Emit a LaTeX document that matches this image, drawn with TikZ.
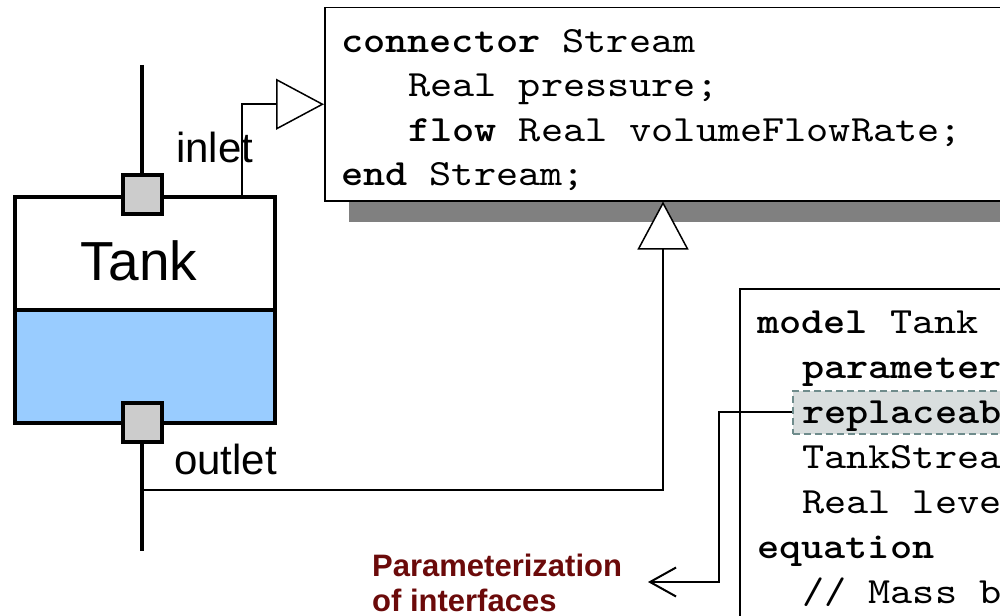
\documentclass[tikz,border=0pt]{standalone}
\usepackage{fontspec}
\setmainfont{Liberation Sans}
\setmonofont{lmmono10-regular.otf}[FakeStretch=1.14,BoldFont=lmmonolt10-bold.otf]
\usetikzlibrary{arrows.meta,calc}
\definecolor{water}{HTML}{99CCFF}
\definecolor{portgray}{HTML}{CCCCCC}
\definecolor{shadowgray}{HTML}{808080}
\definecolor{notered}{HTML}{6B0A0A}
\definecolor{hlfill}{HTML}{D9DEDE}
\definecolor{hldash}{HTML}{6F8C8C}
\begin{document}
\begin{tikzpicture}[x=1pt,y=-1pt,
  heavy/.style={line width=4pt},
  lean/.style={line width=1.5pt},
  vessel/.style={draw,heavy,minimum width=260pt,minimum height=113pt,inner sep=0pt,anchor=north west},
  portbox/.style={draw,heavy,fill=portgray,minimum size=39pt,inner sep=0pt},
  tag/.style={font=\fontsize{42}{48}\selectfont,inner sep=0pt,anchor=base west},
  codebox/.style={draw,lean,fill=white,inner sep=0pt,anchor=north west},
  codeline/.style={font=\fontsize{37}{44}\ttfamily,inner sep=0pt,anchor=base west},
  notetext/.style={font=\fontsize{31}{35}\selectfont\bfseries,text=notered,inner sep=0pt,anchor=base west},
  inherit/.style={lean,-{Triangle[open,length=48pt,width=51pt,fill=white]}},
]
\clip (0,0) rectangle (1000,615);

% the tank: empty upper part and liquid below
\node[vessel,fill=water] (liquid) at (13,308) {};
\node[vessel,fill=white] (vessel) at (13,195) {};
\node[font=\fontsize{55}{60}\selectfont,inner sep=0pt,anchor=base] (tanklabel) at (139,280) {Tank};

% ports and their wires
\node[portbox] (inport) at (142,194) {};
\node[portbox] (outport) at (142,422) {};
\coordinate (intop) at (142,65);
\coordinate (outbot) at (142,551);
\draw[heavy] (intop) -- (inport.north);
\draw[heavy] (outport.south) -- (outbot);
\node[tag] (inlabel) at (176,162) {inlet};
\node[tag] (outlabel) at (174,474) {outlet};

% connector class with drop shadow
\fill[shadowgray] (349,29) rectangle (1040,222);
\node[codebox,minimum width=690pt,minimum height=193pt] (connbox) at (324,7) {};
\node[codeline] (c1) at (341,53) {\textbf{connector} Stream};
\node[codeline] (c2) at (408,97) {Real pressure;};
\node[codeline] (c3) at (408,141) {\textbf{flow} Real volumeFlowRate;};
\node[codeline] (c4) at (341,185) {\textbf{end} Stream;};

% model class
\node[codebox,minimum width=290pt,minimum height=340pt] (modelbox) at (739,288) {};
\node[draw=hldash,fill=hlfill,line width=1.5pt,dash pattern=on 7pt off 4pt,
      minimum width=240pt,minimum height=43pt,inner sep=0pt,anchor=north west] (hl) at (792,390) {};
\node[codeline] (m1) at (757,333) {\textbf{model} Tank};
\node[codeline] (m2) at (802,378) {\textbf{parameter} Real Area=1;};
\node[codeline] (m3) at (802,423) {\textbf{replaceable connector} TankStream = Stream;};
\node[codeline] (m4) at (802,468) {TankStream inlet, outlet;};
\node[codeline] (m5) at (802,513) {Real level;};
\node[codeline] (m6) at (757,558) {\textbf{equation}};
\node[codeline] (m7) at (802,603) {// Mass balance};

% inlet and outlet are instances of the connector class
\coordinate (tap) at (242,195);
\draw[inherit] (tap) |- (connbox.west);
\coordinate (tee) at (142,490);
\coordinate (gx) at (663,0);
\draw[inherit] (tee) -| (gx |- connbox.south);

% annotation of the replaceable connector
\coordinate (elbow) at (719,582);
\coordinate (tip) at (648,582);
\draw[line width=2pt,-{Straight Barb[length=26pt,width=29pt]}] (hl.west) -| (elbow) -- (tip);
\node[notetext] (note1) at (372,576) {Parameterization};
\node[notetext] (note2) at (372,611) {of interfaces};
\end{tikzpicture}
\end{document}
